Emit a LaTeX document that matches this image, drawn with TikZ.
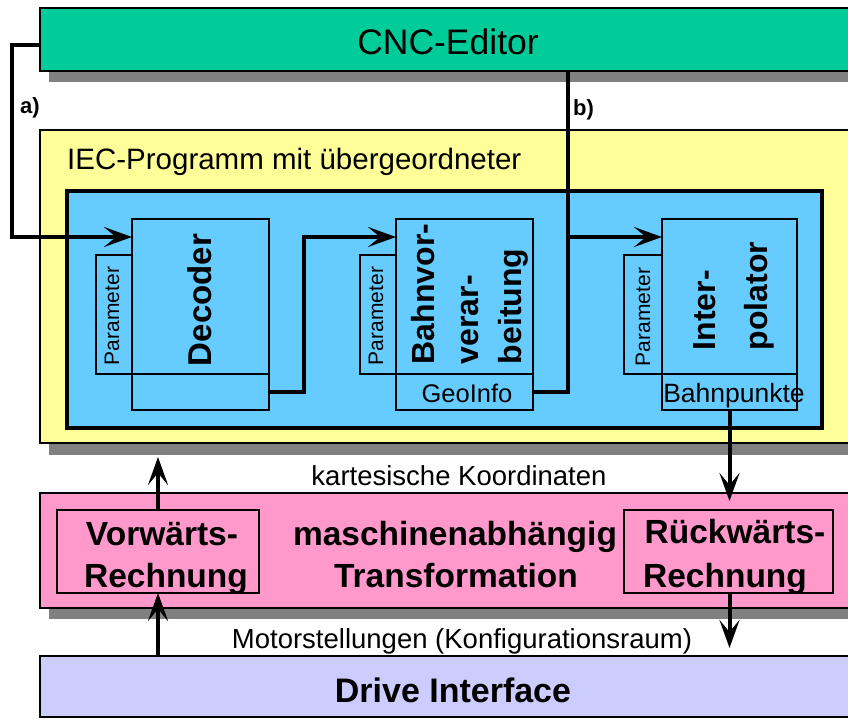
\documentclass[tikz,border=0pt]{standalone}
\usepackage{fontspec}
\setmainfont{Liberation Sans}
\usetikzlibrary{arrows.meta,calc}
\definecolor{cncgreen}{HTML}{00CC99}
\definecolor{iecyellow}{HTML}{FFFF99}
\definecolor{blockblue}{HTML}{66CCFF}
\definecolor{trpink}{HTML}{FF99CC}
\definecolor{drivelav}{HTML}{CCCCFF}
\definecolor{shadowgray}{HTML}{808080}
\begin{document}
\begin{tikzpicture}[x=1pt,y=-1pt,
  box/.style={draw=black, line width=1.2pt, rectangle, inner sep=0pt, outer sep=0pt, anchor=north west},
  conn/.style={line width=4pt, -{Stealth[length=28pt,width=20pt,inset=12pt]}},
  plainline/.style={line width=4pt},
  title/.style={font=\bfseries\fontsize{33.5}{42}\selectfont, inner sep=0pt},
  rtitle/.style={rotate=90, align=left, inner sep=0pt},
  lbl/.style={font=\fontsize{27.5}{30}\selectfont, inner sep=0pt},
  param/.style={rotate=90, font=\fontsize{21}{24}\selectfont, inner sep=0pt},
  tag/.style={font=\bfseries\fontsize{22}{24}\selectfont, inner sep=0pt, anchor=base west}]
\clip (0,0) rectangle (848,719);
\fill[white] (0,0) rectangle (848,719);

% CNC-Editor
\fill[shadowgray] (49,71) rectangle (855,82);
\node[box, fill=cncgreen, minimum width=815pt, minimum height=63pt] (cnc) at (40,8) {};
\node[anchor=base, font=\fontsize{35.5}{40}\selectfont, inner sep=0pt] (cnctxt) at (448,55) {CNC-Editor};

% IEC program
\fill[shadowgray] (49,443) rectangle (855,455);
\node[box, fill=iecyellow, minimum width=815pt, minimum height=313pt] (iec) at (40,130) {};
\node[anchor=base west, font=\fontsize{29.5}{32}\selectfont, inner sep=0pt] (iectxt) at (67,170) {IEC-Programm mit übergeordneter};

% NC kernel
\node[box, fill=blockblue, line width=4pt, minimum width=755pt, minimum height=237pt] (nc) at (67,191) {};

% Decoder
\node[box, fill=blockblue, minimum width=137pt, minimum height=155pt] (dec) at (132,219) {};
\node[box, fill=blockblue, minimum width=137pt, minimum height=36pt] (decb) at (132,374) {};
\node[box, fill=blockblue, minimum width=36pt, minimum height=119pt] (decp) at (96,255) {};
\node[rtitle, font=\bfseries\fontsize{33}{40}\selectfont] (dectxt) at (200,300) {Decoder};
\node[param] (decptxt) at (112,316) {Parameter};

% Bahnvorverarbeitung
\node[box, fill=blockblue, minimum width=137pt, minimum height=155pt] (bahn) at (396,219) {};
\node[box, fill=blockblue, minimum width=137pt, minimum height=36pt] (bahnb) at (396,374) {};
\node[box, fill=blockblue, minimum width=36pt, minimum height=119pt] (bahnp) at (360,255) {};
\node[rtitle, font=\bfseries\fontsize{32}{43.5}\selectfont] (bahntxt) at (470,294) {Bahnvor-\\verar-\\beitung};
\node[param] (bahnptxt) at (376,316) {Parameter};
\node[anchor=base, inner sep=0pt, font=\fontsize{25.5}{30}\selectfont] (geo) at (467,402) {GeoInfo};

% Interpolator
\node[box, fill=blockblue, minimum width=135pt, minimum height=155pt] (ip) at (662,219) {};
\node[box, fill=blockblue, minimum width=135pt, minimum height=36pt] (ipb) at (662,374) {};
\node[box, fill=blockblue, minimum width=38pt, minimum height=119pt] (ipp) at (624,255) {};
\node[rtitle, font=\bfseries\fontsize{32}{52}\selectfont] (iptxt) at (734,296) {Inter-\\polator};
\node[param] (ipptxt) at (643,317) {Parameter};
\node[anchor=base, inner sep=0pt, font=\fontsize{26.5}{30}\selectfont] (bpk) at (734,402) {Bahnpunkte};

% Transformation
\fill[shadowgray] (49,608) rectangle (855,619);
\node[box, fill=trpink, minimum width=815pt, minimum height=115pt] (tr) at (40,493) {};
\node[box, fill=trpink, minimum width=202pt, minimum height=83pt] (vw) at (57,510) {};
\node[box, fill=trpink, minimum width=209pt, minimum height=83pt] (rw) at (624,510) {};
\node[title, anchor=base] (trt1) at (455,545) {maschinenabhängig};
\node[title, anchor=base] (trt2) at (456,587) {Transformation};
\node[title, anchor=base] (vwt1) at (162,545) {Vorwärts-};
\node[title, anchor=base] (vwt2) at (166,587) {Rechnung};
\node[title, anchor=base] (rwt1) at (735,543) {Rückwärts-};
\node[title, anchor=base] (rwt2) at (725,587) {Rechnung};

% Drive Interface
\node[box, fill=drivelav, minimum width=815pt, minimum height=61pt] (drv) at (40,656) {};
\node[anchor=base, font=\bfseries\fontsize{34}{40}\selectfont, inner sep=0pt] (drvtxt) at (453,702) {Drive Interface};

% labels between layers
\node[lbl, anchor=base] (kart) at (459,485) {kartesische Koordinaten};
\node[lbl, anchor=base] (mot) at (462,648) {Motorstellungen (Konfigurationsraum)};

% connectors
\coordinate (aS) at (40,45);
\coordinate (aC) at (12,45);
\coordinate (decIn) at ($(dec.north west)+(0,18)$);
\draw[conn] (aS) -- (aC) |- (decIn);
\node[tag] (atag) at (20,114) {a)};

\coordinate (bahnIn) at ($(bahn.north west)+(0,18)$);
\draw[conn] (decb.east) -- ++(35,0) |- (bahnIn);

\coordinate (bS) at (568,71);
\coordinate (ipIn) at ($(ip.north west)+(0,18)$);
\draw[conn] (bS) |- (ipIn);
\draw[plainline] (bahnb.east) -| (bS |- ipIn);
\node[tag] (btag) at (573,116) {b)};

\draw[conn, shorten >=9pt] (ipb.south) -- (ipb.south |- rw.north);
\draw[conn, shorten >=8pt] (ipb.south |- rw.south) -- (ipb.south |- drv.north);
\draw[conn] (vw.south |- drv.north) -- (vw.south);
\draw[conn, shorten >=14pt] (vw.north) -- (vw.north |- iec.south);
\end{tikzpicture}
\end{document}
